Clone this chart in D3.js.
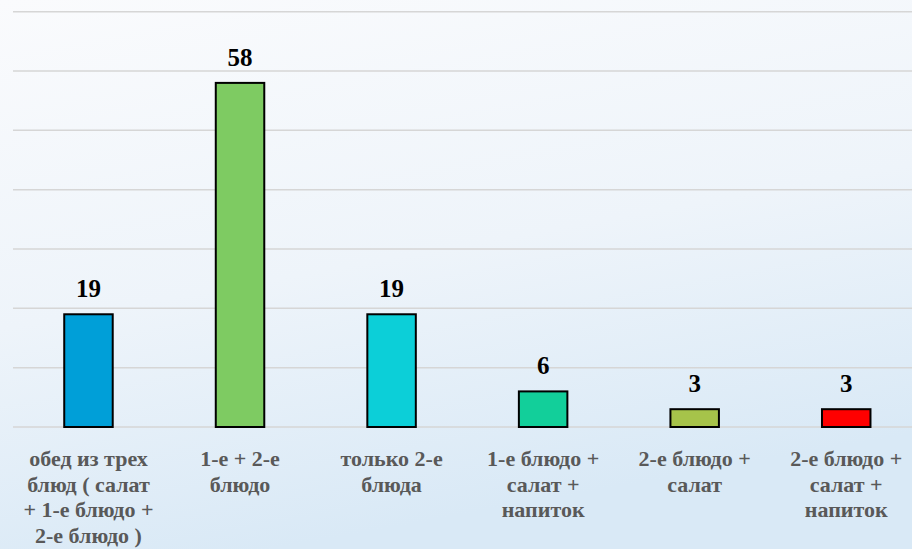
<!DOCTYPE html>
<html>
<head>
<meta charset="utf-8">
<script src="https://cdn.jsdelivr.net/npm/d3@7"></script>
<style>
  body { margin: 0; overflow: hidden; }
  svg { display: block; }
</style>
</head>
<body>
<svg></svg>
<script>
var categories = [
  'обед из трех блюд ( салат + 1-е блюдо + 2-е блюдо )',
  '1-е + 2-е блюдо',
  'только 2-е блюда',
  '1-е блюдо + салат + напиток',
  '2-е блюдо + салат',
  '2-е блюдо + салат + напиток'
];
var values = [19, 58, 19, 6, 3, 3];
var colors = ['#009fd8', '#7ecb62', '#0ccfd8', '#12cf9a', '#a6c34a', '#ff0000'];
var yTicks = [0, 10, 20, 30, 40, 50, 60, 70];

var width = 912;
var height = 549;

var svg = d3.select('svg')
    .attr('width', width)
    .attr('height', height);

var grad = svg.append('defs')
  .append('linearGradient')
    .attr('id', 'bg')
    .attr('x1', 0).attr('y1', 0)
    .attr('x2', 0.3).attr('y2', 1);
grad.append('stop').attr('offset', '0%').attr('stop-color', '#fafbfd');
grad.append('stop').attr('offset', '55%').attr('stop-color', '#eef4fa');
grad.append('stop').attr('offset', '100%').attr('stop-color', '#d9e9f6');

svg.append('rect')
    .attr('width', width)
    .attr('height', height)
    .attr('fill', 'url(#bg)');

var x = d3.scaleBand()
    .domain(categories)
    .range([12.7, 922])
    .paddingInner(0.68)
    .paddingOuter(0.34);

var y = d3.scaleLinear()
    .domain([0, 70])
    .range([427, 11.7]);

// gridlines
svg.append('g')
  .selectAll('line')
  .data(yTicks)
  .enter()
  .append('line')
    .attr('x1', 13)
    .attr('x2', width)
    .attr('y1', d => y(d))
    .attr('y2', d => y(d))
    .attr('stroke', '#d6d6d6')
    .attr('stroke-width', 1.5);

// bars
svg.append('g')
  .selectAll('rect')
  .data(values)
  .enter()
  .append('rect')
    .attr('x', (d, i) => x(categories[i]))
    .attr('y', d => y(d))
    .attr('width', x.bandwidth())
    .attr('height', d => y(0) - y(d))
    .attr('fill', (d, i) => colors[i])
    .attr('stroke', 'black')
    .attr('stroke-width', 2);

// value labels
svg.append('g')
  .selectAll('text')
  .data(values)
  .enter()
  .append('text')
    .attr('x', (d, i) => x(categories[i]) + x.bandwidth() / 2)
    .attr('y', d => y(d) - 17)
    .attr('text-anchor', 'middle')
    .attr('font-family', '"Liberation Serif", "Times New Roman", serif')
    .attr('font-weight', 'bold')
    .attr('font-size', 25)
    .attr('fill', 'black')
    .text(d => d);

// category labels, wrapped
var labels = svg.append('g')
  .selectAll('text')
  .data(categories)
  .enter()
  .append('text')
    .attr('x', d => x(d) + x.bandwidth() / 2)
    .attr('y', 466)
    .attr('text-anchor', 'middle')
    .attr('font-family', '"Liberation Serif", "Times New Roman", serif')
    .attr('font-weight', 'bold')
    .attr('font-size', 22)
    .attr('fill', '#595959');

labels.each(function(d) {
  var text = d3.select(this);
  var words = d.split(' ');
  var line = [];
  var cx = text.attr('x');
  var tspan = text.append('tspan').attr('x', cx).attr('dy', 0);
  words.forEach(function(w) {
    line.push(w);
    tspan.text(line.join(' '));
    if (tspan.node().getComputedTextLength() > 140 && line.length > 1) {
      line.pop();
      tspan.text(line.join(' '));
      line = [w];
      tspan = text.append('tspan').attr('x', cx).attr('dy', 25.7).text(w);
    }
  });
});
</script>
</body>
</html>
